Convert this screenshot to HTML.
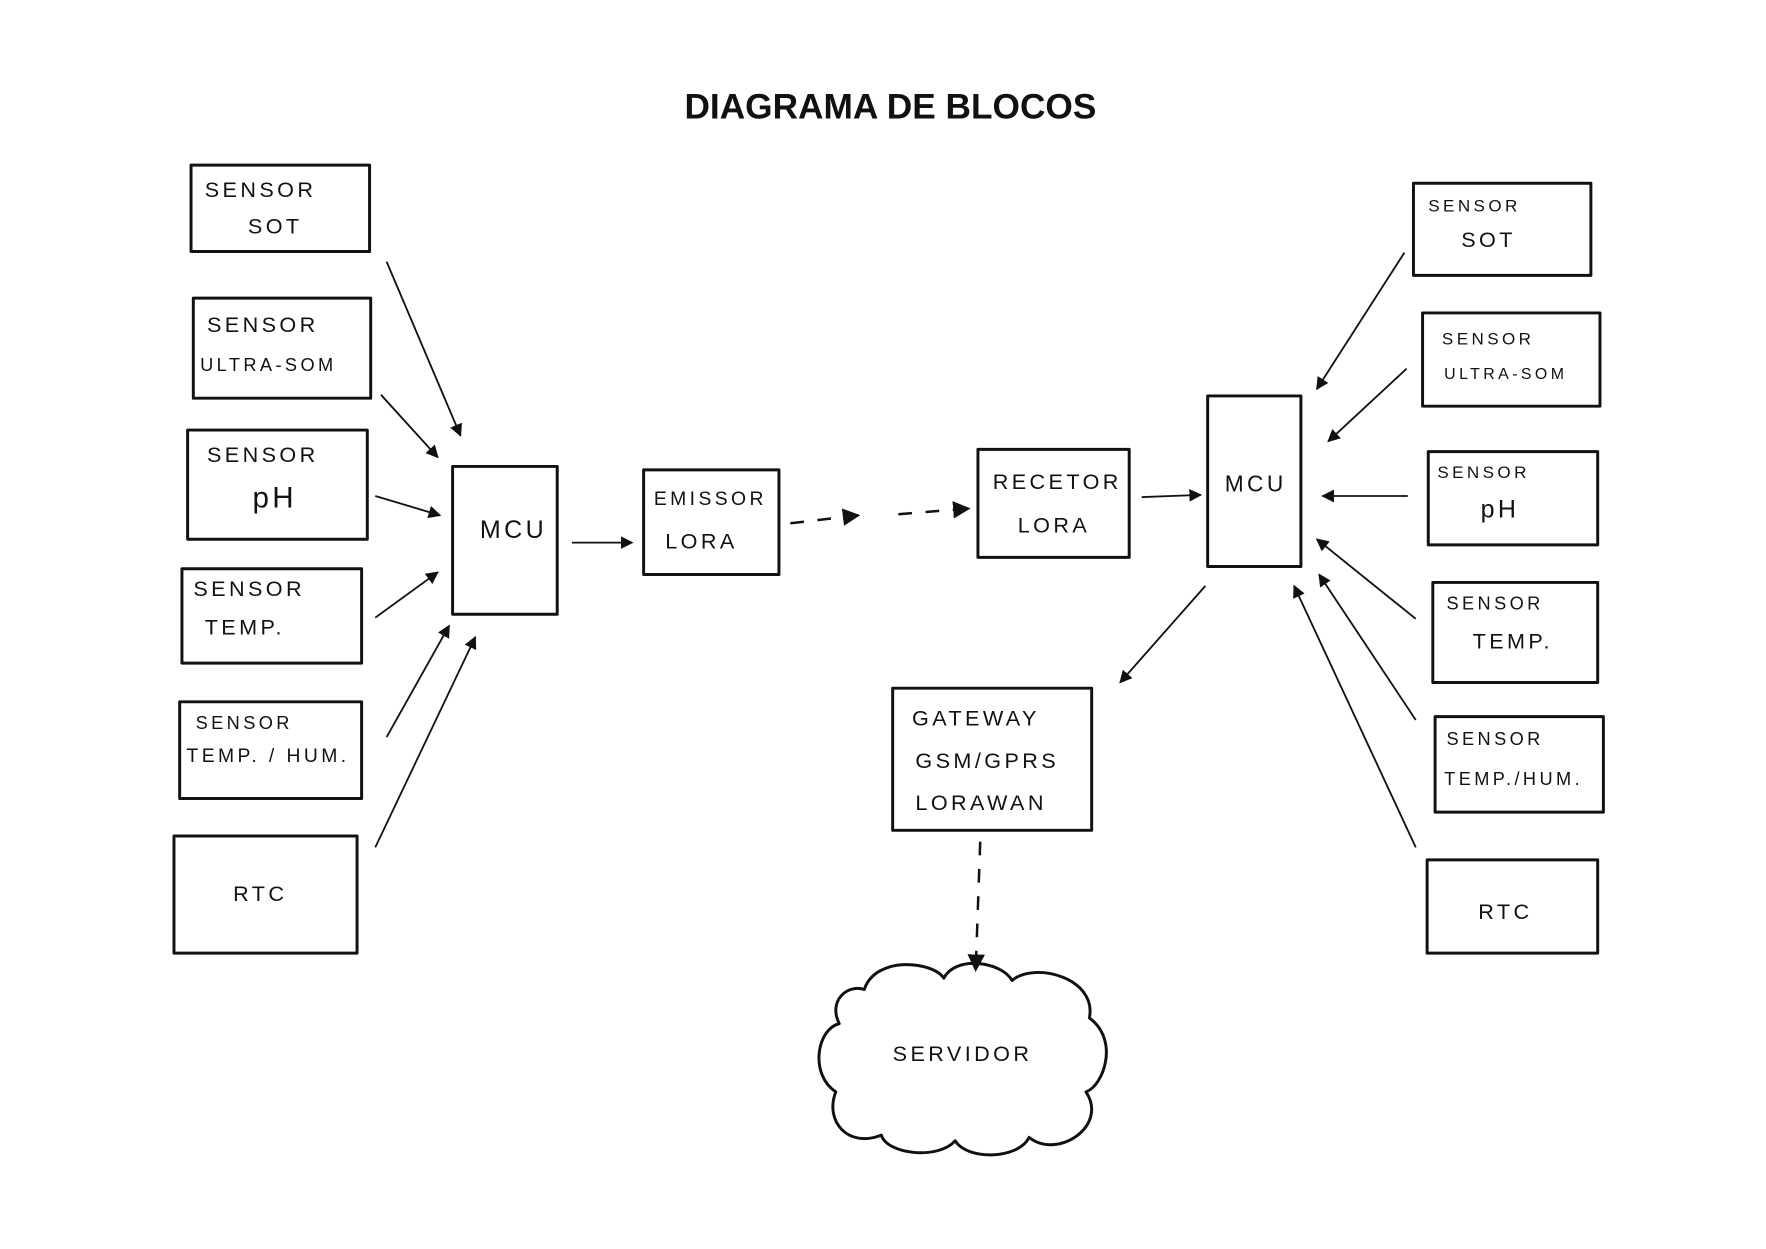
<!DOCTYPE html>
<html><head><meta charset="utf-8"><style>
html,body{margin:0;padding:0;background:#fff;}
svg{display:block}
.b{fill:none;stroke:#111;stroke-width:2.6;stroke-linejoin:round}
.a{fill:none;stroke:#111;stroke-width:1.6}
.d{fill:none;stroke:#111;stroke-width:2.2;stroke-dasharray:12 12}
text{font-family:"Liberation Sans",sans-serif;fill:#111;font-size:19px;letter-spacing:3px}
.t{font-family:"Liberation Sans",sans-serif;font-weight:bold;font-size:31px;letter-spacing:0}
</style></head><body>
<svg width="1766" height="1249" viewBox="0 0 1553 1098" xmlns="http://www.w3.org/2000/svg">
<defs><marker id="m" viewBox="0 0 10 10" refX="9" refY="5" markerWidth="7" markerHeight="7" orient="auto-start-reverse"><path d="M0,0 L10,5 L0,10 z" fill="#111"/></marker></defs>
<text class="t" x="783" y="104" text-anchor="middle">DIAGRAMA DE BLOCOS</text>
<!-- left boxes -->
<rect class="b" x="168" y="145" width="157" height="76"/>
<text x="180" y="173">SENSOR</text><text x="218" y="205">SOT</text>
<rect class="b" x="170" y="262" width="156" height="88"/>
<text x="182" y="292">SENSOR</text><text x="176" y="326" style="font-size:16px">ULTRA-SOM</text>
<rect class="b" x="165" y="378" width="158" height="96"/>
<text x="182" y="406">SENSOR</text><text x="222" y="446" style="font-size:26px">pH</text>
<rect class="b" x="160" y="500" width="158" height="83"/>
<text x="170" y="524">SENSOR</text><text x="180" y="558">TEMP.</text>
<rect class="b" x="158" y="617" width="160" height="85"/>
<text x="172" y="641" style="font-size:16px">SENSOR</text><text x="164" y="670" style="font-size:17px">TEMP. / HUM.</text>
<rect class="b" x="153" y="735" width="161" height="103"/>
<text x="205" y="792">RTC</text>
<rect class="b" x="398" y="410" width="92" height="130"/>
<text x="422" y="473" style="font-size:22px">MCU</text>
<rect class="b" x="566" y="413" width="119" height="92"/>
<text x="575" y="444" style="font-size:17px">EMISSOR</text><text x="585" y="482">LORA</text>
<rect class="b" x="860" y="395" width="133" height="95"/>
<text x="873" y="430">RECETOR</text><text x="895" y="468">LORA</text>
<rect class="b" x="1062" y="348" width="82" height="150"/>
<text x="1077" y="432" style="font-size:20px">MCU</text>
<rect class="b" x="785" y="605" width="175" height="125"/>
<text x="802" y="638">GATEWAY</text><text x="805" y="675">GSM/GPRS</text><text x="805" y="712">LORAWAN</text>
<!-- right boxes -->
<rect class="b" x="1243" y="161" width="156" height="81"/>
<text x="1256" y="186" style="font-size:15px">SENSOR</text><text x="1285" y="217">SOT</text>
<rect class="b" x="1251" y="275" width="156" height="82"/>
<text x="1268" y="303" style="font-size:15px">SENSOR</text><text x="1270" y="333" style="font-size:14px">ULTRA-SOM</text>
<rect class="b" x="1256" y="397" width="149" height="82"/>
<text x="1264" y="420" style="font-size:15px">SENSOR</text><text x="1302" y="455" style="font-size:22px">pH</text>
<rect class="b" x="1260" y="512" width="145" height="88"/>
<text x="1272" y="536" style="font-size:16px">SENSOR</text><text x="1295" y="570">TEMP.</text>
<rect class="b" x="1262" y="630" width="148" height="84"/>
<text x="1272" y="655" style="font-size:16px">SENSOR</text><text x="1270" y="690" style="font-size:16px">TEMP./HUM.</text>
<rect class="b" x="1255" y="756" width="150" height="82"/>
<text x="1300" y="808">RTC</text>
<!-- cloud -->
<path class="b" d="M760,870 C770,840 820,845 830,860 C840,840 880,845 890,862 C910,845 965,860 958,895 C985,915 970,955 955,960 C975,990 930,1020 905,1000 C895,1020 850,1020 840,1003 C825,1020 780,1015 775,998 C745,1010 725,985 735,960 C712,945 718,905 738,900 C728,880 745,865 760,870 Z"/>
<text x="785" y="933">SERVIDOR</text>
<!-- arrows -->
<g class="a">
<line x1="340" y1="230" x2="405" y2="383" marker-end="url(#m)"/>
<line x1="335" y1="347" x2="385" y2="402" marker-end="url(#m)"/>
<line x1="330" y1="436" x2="387" y2="453" marker-end="url(#m)"/>
<line x1="330" y1="543" x2="385" y2="503" marker-end="url(#m)"/>
<line x1="340" y1="648" x2="395" y2="550" marker-end="url(#m)"/>
<line x1="330" y1="745" x2="418" y2="560" marker-end="url(#m)"/>
<line x1="503" y1="477" x2="556" y2="477" marker-end="url(#m)"/>
<line x1="1004" y1="437" x2="1056" y2="435" marker-end="url(#m)"/>
<line x1="1235" y1="222" x2="1158" y2="342" marker-end="url(#m)"/>
<line x1="1237" y1="324" x2="1168" y2="388" marker-end="url(#m)"/>
<line x1="1238" y1="436" x2="1163" y2="436" marker-end="url(#m)"/>
<line x1="1245" y1="544" x2="1158" y2="474" marker-end="url(#m)"/>
<line x1="1245" y1="633" x2="1160" y2="505" marker-end="url(#m)"/>
<line x1="1245" y1="745" x2="1138" y2="515" marker-end="url(#m)"/>
<line x1="1060" y1="515" x2="985" y2="600" marker-end="url(#m)"/>
</g>
<line class="d" x1="695" y1="460" x2="755" y2="453" marker-end="url(#m)"/>
<line class="d" x1="790" y1="452" x2="852" y2="447" marker-end="url(#m)"/>
<line class="d" x1="862" y1="740" x2="858" y2="853" marker-end="url(#m)"/>
</svg>
</body></html>
